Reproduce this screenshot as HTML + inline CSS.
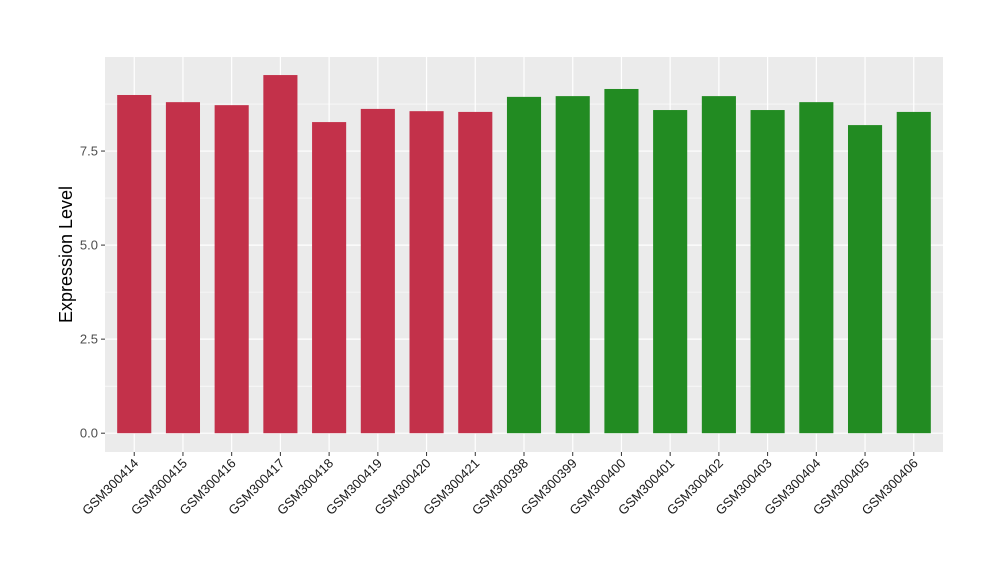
<!DOCTYPE html>
<html><head><meta charset="utf-8"><style>body{margin:0;background:#fff}svg{display:block}text{font-family:"Liberation Sans",sans-serif}</style></head>
<body>
<svg id="chart" width="1000" height="580" xmlns="http://www.w3.org/2000/svg"></svg>
<script>
const categories=["GSM300414","GSM300415","GSM300416","GSM300417","GSM300418","GSM300419","GSM300420","GSM300421","GSM300398","GSM300399","GSM300400","GSM300401","GSM300402","GSM300403","GSM300404","GSM300405","GSM300406"];
const values=[8.99,8.80,8.72,9.52,8.27,8.62,8.56,8.54,8.94,8.96,9.15,8.59,8.96,8.59,8.80,8.19,8.54];
const groups=["a","a","a","a","a","a","a","a","b","b","b","b","b","b","b","b","b"];
const yTicks=[0,2.5,5.0,7.5];
const yTickLabels=["0.0","2.5","5.0","7.5"];
const NS="http://www.w3.org/2000/svg";
const svg=document.getElementById('chart');
const L=105,R=943,T=57,B=452,yMin=-0.5,yMax=10.0;
const step=(R-L)/(categories.length-1+1.2);
const x=i=>L+(0.6+i)*step;
const y=v=>B-(v-yMin)/(yMax-yMin)*(B-T);
function mk(tag,attrs){const e=document.createElementNS(NS,tag);for(const k in attrs)e.setAttribute(k,attrs[k]);svg.appendChild(e);return e;}
let p=mk('rect',{x:L,y:T,width:R-L,height:B-T,fill:'#EBEBEB'});


for(let i=0;i<yTicks.length;i++){
  const m=yTicks[i]+1.25;
  let g=mk('line',{x1:L,x2:R,y1:y(m),y2:y(m),stroke:'#fff','stroke-width':0.6});
  
  
  let G=mk('line',{x1:L,x2:R,y1:y(yTicks[i]),y2:y(yTicks[i]),stroke:'#fff','stroke-width':1.2});
  
  
  let tk=mk('line',{x1:L-4,x2:L,y1:y(yTicks[i]),y2:y(yTicks[i]),stroke:'#333','stroke-width':1});
  
  
  let t=mk('text',{x:L-7,y:y(yTicks[i])+4.5,'text-anchor':'end','font-size':13,fill:'#4d4d4d'});
  t.textContent=yTickLabels[i];
  
  
}
for(let i=0;i<categories.length;i++){
  let vg=mk('line',{x1:x(i),x2:x(i),y1:T,y2:B,stroke:'#fff','stroke-width':1.2});
  
  
}
for(let i=0;i<categories.length;i++){
  const w=step*0.7;
  let b=mk('rect',{x:x(i)-w/2,y:y(values[i]),width:w,height:y(0)-y(values[i]),fill:groups[i]==='a'?'#C3314A':'#228B22'});
  
  
  let tk=mk('line',{x1:x(i),x2:x(i),y1:B,y2:B+4,stroke:'#333','stroke-width':1});
  
  
  let t=mk('text',{x:x(i)+5,y:B+12,'text-anchor':'end','font-size':13,fill:'#1a1a1a',transform:`rotate(-45 ${x(i)+5} ${B+12})`});
  t.textContent=categories[i];
  
  
}
let yt=mk('text',{x:72,y:(T+B)/2,'text-anchor':'middle','font-size':18,fill:'#000',transform:`rotate(-90 72 ${(T+B)/2})`});
yt.textContent='Expression Level';


</script>
</body></html>
